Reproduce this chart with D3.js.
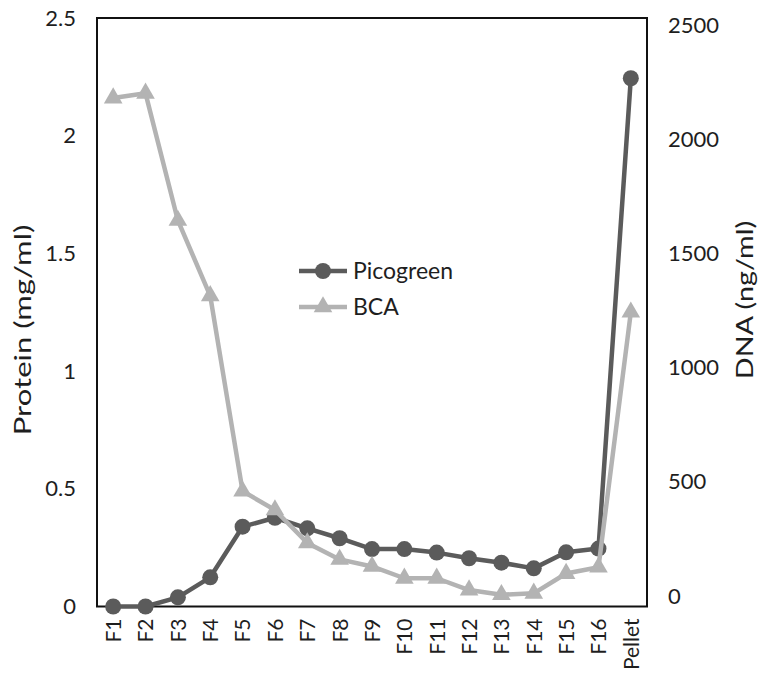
<!DOCTYPE html>
<html>
<head>
<meta charset="utf-8">
<script src="https://cdn.jsdelivr.net/npm/d3@7"></script>
<style>
  body { margin: 0; background: #fff; }
  svg { display: block; font-family: Lato, "Open Sans", sans-serif; }
</style>
</head>
<body>
<div id="chart"></div>
<script>
// fractions along the gradient
const categories = ["F1", "F2", "F3", "F4", "F5", "F6", "F7", "F8", "F9", "F10",
  "F11", "F12", "F13", "F14", "F15", "F16", "Pellet"];

// DNA by Picogreen, ng/ml (right axis)
const picogreen = [0, 0, 39, 124, 339, 377, 332, 290, 244, 244, 229, 205, 186, 162, 230, 246, 2244];

// Protein by BCA, mg/ml (left axis)
const bca = [2.16, 2.18, 1.64, 1.32, 0.49, 0.41, 0.27, 0.20, 0.17, 0.12, 0.12, 0.07, 0.05, 0.056, 0.14, 0.167, 1.25];

const leftTicks = [0, 0.5, 1, 1.5, 2, 2.5];
const rightTicks = [0, 500, 1000, 1500, 2000, 2500];

const W = 761, H = 679;
const plot = { left: 97, right: 647, top: 18, bottom: 606.5 };

const darkGray = "#5b5b5b", lightGray = "#b3b3b3", textColor = "#1e1e1e";

const svg = d3.select("#chart").append("svg")
  .attr("width", W)
  .attr("height", H);

/** scales */
const x = d3.scalePoint()
  .domain(categories)
  .range([plot.left, plot.right])
  .padding(0.5);

const yLeft = d3.scaleLinear().domain([0, 2.5]).range([plot.bottom, plot.top]);
const yRight = d3.scaleLinear().domain([0, 2500]).range([plot.bottom, plot.top]);
// the secondary axis labels sit a little inside the frame in the original
const yRightLabels = d3.scaleLinear().domain([0, 2500]).range([596, 25]);

/** plot frame */
svg.append("rect")
  .attr("x", plot.left)
  .attr("y", plot.top)
  .attr("width", plot.right - plot.left)
  .attr("height", plot.bottom - plot.top)
  .attr("fill", "none")
  .attr("stroke", "#111")
  .attr("stroke-width", 2);

/** axes, labels only */
const leftAxis = svg.append("g")
  .attr("transform", "translate(" + 76 + ",0)")
  .call(d3.axisLeft(yLeft).tickValues(leftTicks).tickSize(0).tickPadding(0)
    .tickFormat(d => d3.format("~g")(d)));

const rightAxis = svg.append("g")
  .attr("transform", "translate(" + 668 + ",0)")
  .call(d3.axisRight(yRightLabels).tickValues(rightTicks).tickSize(0).tickPadding(0)
    .tickFormat(d3.format("d")));

const xAxis = svg.append("g")
  .attr("transform", "translate(0," + plot.bottom + ")")
  .call(d3.axisBottom(x).tickSize(0).tickPadding(0));

xAxis.selectAll("text")
  .attr("transform", "rotate(-90)")
  .attr("text-anchor", "end")
  .attr("x", -12)
  .attr("y", 0)
  .attr("dy", "0.35em");

[leftAxis, rightAxis].forEach(a => {
  a.selectAll("text").style("font-size", "22px");
});
xAxis.selectAll("text").style("font-size", "21px");

[leftAxis, rightAxis, xAxis].forEach(a => {
  a.select(".domain").remove();
  a.selectAll("text")
    .attr("fill", textColor)
    .style("font-family", "Lato, sans-serif");
});

/** axis titles (stretched along their length like the original) */
svg.append("text")
  .attr("transform", "translate(" + 31 + "," + 330 + ") rotate(-90) scale(1.35,1)")
  .attr("text-anchor", "middle")
  .attr("fill", textColor)
  .style("font-size", "23px")
  .text("Protein (mg/ml)");

svg.append("text")
  .attr("transform", "translate(" + 753 + "," + 300 + ") rotate(-90) scale(1.25,1)")
  .attr("text-anchor", "middle")
  .attr("fill", textColor)
  .style("font-size", "23px")
  .text("DNA (ng/ml)");

/** series */
const picoLine = d3.line()
  .x((d, i) => x(categories[i]))
  .y(d => yRight(d));

const bcaLine = d3.line()
  .x((d, i) => x(categories[i]))
  .y(d => yLeft(d));

const triangle = d3.symbol().type(d3.symbolTriangle).size(150);

const pico = svg.append("g").attr("id", "picogreen");
pico.append("path")
  .attr("d", picoLine(picogreen))
  .attr("fill", "none")
  .attr("stroke", darkGray)
  .attr("stroke-width", 4.5)
  .attr("stroke-linejoin", "round");
pico.selectAll("circle")
  .data(picogreen)
  .enter()
  .append("circle")
  .attr("cx", (d, i) => x(categories[i]))
  .attr("cy", d => yRight(d))
  .attr("r", 8)
  .attr("fill", darkGray);

const bcaG = svg.append("g").attr("id", "bca");
bcaG.append("path")
  .attr("d", bcaLine(bca))
  .attr("fill", "none")
  .attr("stroke", lightGray)
  .attr("stroke-width", 4.5)
  .attr("stroke-linejoin", "round");
bcaG.selectAll("path.marker")
  .data(bca)
  .enter()
  .append("path")
  .attr("class", "marker")
  .attr("d", triangle)
  .attr("transform", (d, i) => "translate(" + x(categories[i]) + "," + yLeft(d) + ")")
  .attr("fill", lightGray);

/** legend */
const legend = svg.append("g")
  .attr("transform", "translate(" + 299 + "," + 271 + ")");

const legendItems = [
  { name: "Picogreen", color: darkGray, marker: "circle" },
  { name: "BCA", color: lightGray, marker: "triangle" }
];

legend.selectAll("g")
  .data(legendItems)
  .enter()
  .append("g")
  .attr("transform", (d, i) => "translate(0," + i * 36 + ")")
  .each(function(d) {
    const g = d3.select(this);
    g.append("line")
      .attr("x1", 0).attr("x2", 48)
      .attr("stroke", d.color)
      .attr("stroke-width", 4.5);
    if (d.marker === "circle") {
      g.append("circle").attr("cx", 24).attr("r", 8).attr("fill", d.color);
    } else {
      g.append("path").attr("d", triangle).attr("transform", "translate(24,0)").attr("fill", d.color);
    }
    g.append("text")
      .attr("x", 54)
      .attr("dy", "0.35em")
      .attr("fill", textColor)
      .style("font-size", "23px")
      .text(d.name);
  });
</script>
</body>
</html>
